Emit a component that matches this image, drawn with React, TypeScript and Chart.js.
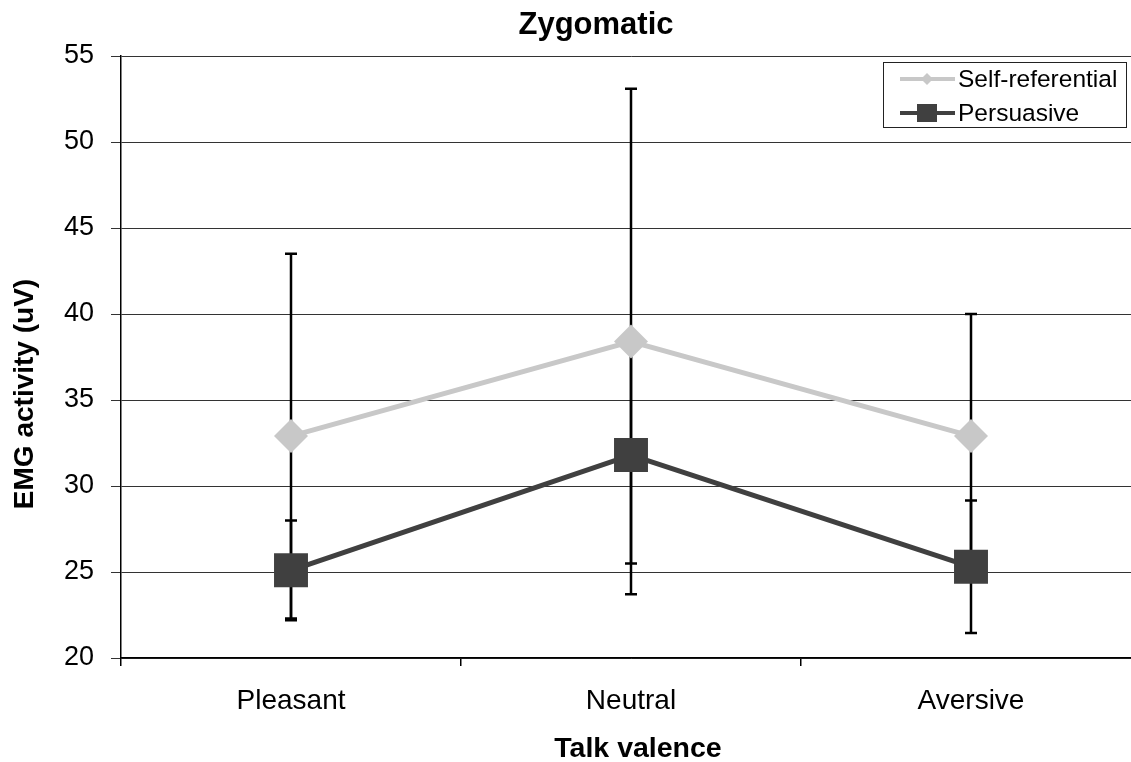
import React, { useEffect, useRef } from "react";
import { Chart, registerables } from "chart.js";

Chart.register(...registerables);

const categories = ["Pleasant", "Neutral", "Aversive"];
const selfReferential = [32.9, 38.4, 32.9];
const selfReferentialErr = [10.6, 14.7, 7.1];
const persuasive = [25.1, 31.8, 25.3];
const persuasiveErr = [2.9, 6.3, 3.85];
const yTicks = [20, 25, 30, 35, 40, 45, 50, 55];

const FONT = "'Liberation Sans', Arial, Helvetica, sans-serif";
const SELF_COLOR = "#c8c8c8";
const PERS_COLOR = "#404040";

const errorBarsPlugin = {
  id: "errorBars",
  beforeDatasetsDraw(chart: any) {
    const ctx = chart.ctx;
    const yScale = chart.scales.y;
    const errs = [selfReferentialErr, persuasiveErr];
    const vals = [selfReferential, persuasive];
    ctx.save();
    ctx.strokeStyle = "#000";
    ctx.lineWidth = 2.5;
    errs.forEach((err, i) => {
      const meta = chart.getDatasetMeta(i);
      meta.data.forEach((pt: any, j: number) => {
        const x = pt.x;
        const yt = yScale.getPixelForValue(vals[i][j] + err[j]);
        const yb = yScale.getPixelForValue(vals[i][j] - err[j]);
        ctx.beginPath();
        ctx.moveTo(x, yt);
        ctx.lineTo(x, yb);
        ctx.moveTo(x - 6, yt);
        ctx.lineTo(x + 6, yt);
        ctx.moveTo(x - 6, yb);
        ctx.lineTo(x + 6, yb);
        ctx.stroke();
      });
    });
    ctx.restore();
  },
};

const textPlugin = {
  id: "texts",
  afterDraw(chart: any) {
    const ctx = chart.ctx;
    ctx.save();
    ctx.fillStyle = "#000";
    // Title
    ctx.font = `bold 31px ${FONT}`;
    ctx.textAlign = "center";
    ctx.textBaseline = "alphabetic";
    ctx.fillText("Zygomatic", 596, 34);
    // X axis title
    ctx.font = `bold 28.5px ${FONT}`;
    ctx.fillText("Talk valence", 638, 757);
    // Y axis title
    ctx.save();
    ctx.translate(33, 394);
    ctx.rotate(-Math.PI / 2);
    ctx.font = `bold 28px ${FONT}`;
    ctx.fillText("EMG activity (uV)", 0, 0);
    ctx.restore();

    // Legend
    const bx = 883.5, by = 62.5, bw = 243, bh = 65;
    ctx.fillStyle = "#fff";
    ctx.fillRect(bx, by, bw, bh);
    ctx.strokeStyle = "#222";
    ctx.lineWidth = 1;
    ctx.strokeRect(bx, by, bw, bh);

    const rows = [
      { label: "Self-referential", color: SELF_COLOR, y: 79, shape: "diamond" },
      { label: "Persuasive", color: PERS_COLOR, y: 113, shape: "square" },
    ];
    rows.forEach((r) => {
      ctx.strokeStyle = r.color;
      ctx.lineWidth = 4;
      ctx.beginPath();
      ctx.moveTo(900, r.y);
      ctx.lineTo(955, r.y);
      ctx.stroke();
      ctx.fillStyle = r.color;
      const cx = 927;
      if (r.shape === "diamond") {
        const s = 6;
        ctx.beginPath();
        ctx.moveTo(cx, r.y - s);
        ctx.lineTo(cx + s, r.y);
        ctx.lineTo(cx, r.y + s);
        ctx.lineTo(cx - s, r.y);
        ctx.closePath();
        ctx.fill();
      } else {
        ctx.fillRect(cx - 10, r.y - 9, 20, 18);
      }
      ctx.fillStyle = "#000";
      ctx.font = `24.5px ${FONT}`;
      ctx.textAlign = "left";
      ctx.textBaseline = "middle";
      ctx.fillText(r.label, 958, r.y + 1);
    });
    ctx.restore();
  },
};

export default function App() {
  const canvasRef = useRef<HTMLCanvasElement | null>(null);

  useEffect(() => {
    document.body.style.margin = "0";
    const canvas = canvasRef.current;
    if (!canvas) return;
    const chart = new Chart(canvas, {
      type: "line",
      data: {
        labels: categories,
        datasets: [
          {
            label: "Self-referential",
            data: selfReferential,
            borderColor: SELF_COLOR,
            backgroundColor: SELF_COLOR,
            borderWidth: 5,
            pointStyle: "rectRot",
            pointRadius: 17,
            pointBorderWidth: 0,
            pointBackgroundColor: SELF_COLOR,
            pointBorderColor: SELF_COLOR,
            tension: 0,
          },
          {
            label: "Persuasive",
            data: persuasive,
            borderColor: PERS_COLOR,
            backgroundColor: PERS_COLOR,
            borderWidth: 5,
            pointStyle: "rect",
            pointRadius: 24,
            pointBorderWidth: 0,
            pointBackgroundColor: PERS_COLOR,
            pointBorderColor: PERS_COLOR,
            tension: 0,
          },
        ],
      },
      options: {
        animation: false,
        responsive: false,
        maintainAspectRatio: false,
        devicePixelRatio: 1,
        layout: { autoPadding: false, padding: { top: 56, left: 0, right: 0, bottom: 0 } },
        plugins: {
          legend: { display: false },
          title: { display: false },
          tooltip: { enabled: false },
        },
        scales: {
          x: {
            type: "category",
            offset: true,
            grid: {
              display: true,
              drawOnChartArea: false,
              offset: true,
              color: "#000",
              tickLength: 8,
              lineWidth: 1.5,
            },
            border: { display: true, color: "#000", width: 1.5 },
            ticks: {
              color: "#000",
              font: { family: FONT, size: 28 },
              padding: 18,
            },
            afterFit(scale: any) {
              scale.height = 104;
              scale.paddingLeft = 0;
              scale.paddingRight = 0;
            },
          },
          y: {
            min: 20,
            max: 55,
            afterBuildTicks(scale: any) {
              scale.ticks = yTicks.map((v) => ({ value: v }));
            },
            grid: {
              color: "#333",
              lineWidth: 1,
              tickLength: 10,
            },
            border: { display: true, color: "#000", width: 1.5 },
            ticks: {
              color: "#000",
              font: { family: FONT, size: 27 },
              padding: 17,
            },
            afterFit(scale: any) {
              scale.width = 121;
              scale.paddingTop = 0;
              scale.paddingBottom = 0;
            },
          },
        },
      },
      plugins: [errorBarsPlugin, textPlugin],
    });
    return () => chart.destroy();
  }, []);

  return (
    <div style={{ width: 1131, height: 762, overflow: "hidden", position: "relative", background: "#fff" }}>
      <canvas ref={canvasRef} width={1141} height={762} style={{ display: "block", width: 1141, height: 762 }} />
    </div>
  );
}
